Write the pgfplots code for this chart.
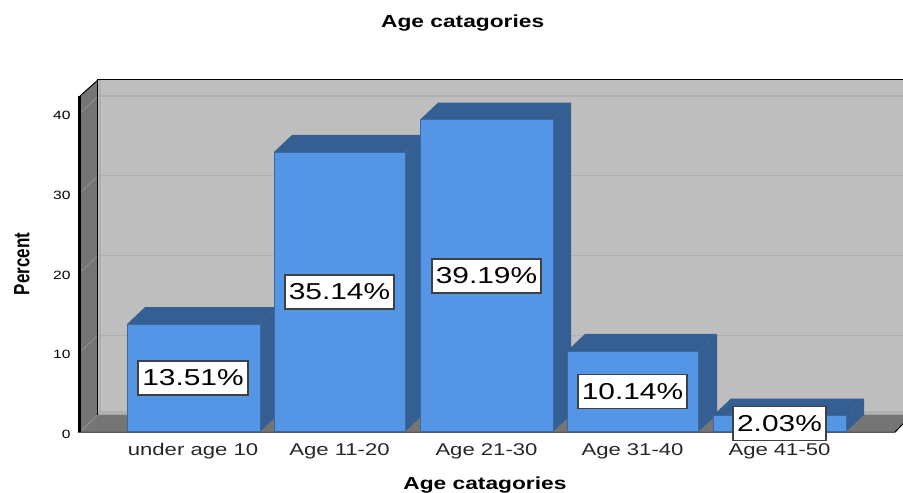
\documentclass[border=0pt]{standalone}
\usepackage{fontspec}
\setmainfont{Liberation Sans}
\newfontfamily\wide[FakeStretch=1.3]{Liberation Sans}
\usepackage{pgfplots}
\pgfplotsset{compat=1.18}
\definecolor{wall}{HTML}{BEBEBE}
\definecolor{dwall}{HTML}{757575}
\definecolor{gridc}{HTML}{B0B0B0}
\definecolor{front}{HTML}{5595E5}
\definecolor{side}{HTML}{355E92}
\begin{document}
\begin{tikzpicture}[x=1pt,y=1pt]
\useasboundingbox (-80pt,-61.3pt) rectangle (823pt,431.7pt);
\begin{axis}[
  at={(0pt,0pt)}, anchor=south west,
  scale only axis, width=823pt, height=351.7pt,
  xmin=80, xmax=903, ymin=0, ymax=44.18,
  clip=false,
  axis line style={draw=none},
  tick style={draw=none},
  /pgf/number format/assume math mode=true,
  ytick={0,10,20,30,40},
  yticklabel style={font=\wide\fontsize{12}{14}\selectfont, xshift=-6pt, yshift=-2.5pt},
  xtick={193,339.5,486.5,632.5,779.5},
  xticklabels={under age 10,Age 11-20,Age 21-30,Age 31-40,Age 41-50},
  xticklabel style={font=\wide\fontsize{17}{19}\selectfont, yshift=-8pt, text=black!85},
  title={Age catagories},
  title style={at={(axis description cs:0.465,1.146)}, anchor=center, font=\wide\bfseries\fontsize{17.5}{20}\selectfont},
  xlabel={Age catagories},
  xlabel style={at={(axis description cs:0.492,-0.151)}, anchor=center, font=\wide\bfseries\fontsize{17.5}{20}\selectfont},
  ylabel={\scalebox{1}[1.3]{\bfseries\fontsize{17}{19}\selectfont Percent}},
  ylabel style={at={(axis description cs:-0.0705,0.477)}, anchor=center, rotate=0},
]
% walls
\addplot[draw=none, fill=wall] coordinates {(98,2.14)(903,2.14)(903,44.18)(98,44.18)} -- cycle;
\addplot[draw=none, fill=dwall] coordinates {(80,0)(895,0)(903,1)(903,2.14)(98,2.14)} -- cycle;
\addplot[draw=none, fill=dwall] coordinates {(80,0)(98,2.14)(98,44.18)(80,42.17)} -- cycle;
% grid on the back wall
\addplot[gridc, line width=0.8pt] coordinates {(98,12.14)(903,12.14)};
\addplot[gridc, line width=0.8pt] coordinates {(98,22.14)(903,22.14)};
\addplot[gridc, line width=0.8pt] coordinates {(98,32.14)(903,32.14)};
\addplot[gridc, line width=2pt] coordinates {(98,42.14)(903,42.14)};
\addplot[gridc, line width=2pt] coordinates {(100,2.14)(100,44.18)};
\addplot[gridc, line width=3pt] coordinates {(98,2.4)(903,2.4)};
% grid on the side wall
\addplot[black!40, line width=0.6pt] coordinates {(80,10)(98,12.14)};
\addplot[black!40, line width=0.6pt] coordinates {(80,20)(98,22.14)};
\addplot[black!40, line width=0.6pt] coordinates {(80,30)(98,32.14)};
\addplot[black!40, line width=0.6pt] coordinates {(80,40)(98,42.14)};
\addplot[black!40, line width=0.6pt] coordinates {(82,0.2)(98,2.14)};
% frame
\addplot[black, line width=1pt] coordinates {(98,2.14)(98,44.18)(903,44.18)};
\addplot[black, line width=1pt] coordinates {(80,42.17)(98,44.18)};
\addplot[black, line width=3pt] coordinates {(79.5,0)(79.5,42.17)};
\addplot[black, line width=1pt] coordinates {(78,-0.06)(895,-0.06)(903,1)};
% bar 1
\addplot[draw=none, fill=side] coordinates {(260,0)(278,2.14)(278,15.65)(260,13.51)} -- cycle;
\addplot[draw=none, fill=side] coordinates {(127,13.51)(145,15.65)(278,15.65)(260,13.51)} -- cycle;
\addplot[draw=front!70!black, line width=0.6pt, fill=front] coordinates {(127,0)(260,0)(260,13.51)(127,13.51)} -- cycle;
% bar 2
\addplot[draw=none, fill=side] coordinates {(405,0)(423,2.14)(423,37.28)(405,35.14)} -- cycle;
\addplot[draw=none, fill=side] coordinates {(274,35.14)(292,37.28)(423,37.28)(405,35.14)} -- cycle;
\addplot[draw=front!70!black, line width=0.6pt, fill=front] coordinates {(274,0)(405,0)(405,35.14)(274,35.14)} -- cycle;
% bar 3
\addplot[draw=none, fill=side] coordinates {(553,0)(571,2.14)(571,41.33)(553,39.19)} -- cycle;
\addplot[draw=none, fill=side] coordinates {(420,39.19)(438,41.33)(571,41.33)(553,39.19)} -- cycle;
\addplot[draw=front!70!black, line width=0.6pt, fill=front] coordinates {(420,0)(553,0)(553,39.19)(420,39.19)} -- cycle;
% bar 4
\addplot[draw=none, fill=side] coordinates {(698,0)(717,2.14)(717,12.28)(698,10.14)} -- cycle;
\addplot[draw=none, fill=side] coordinates {(567,10.14)(585,12.28)(717,12.28)(698,10.14)} -- cycle;
\addplot[draw=front!70!black, line width=0.6pt, fill=front] coordinates {(567,0)(698,0)(698,10.14)(567,10.14)} -- cycle;
% bar 5
\addplot[draw=none, fill=side] coordinates {(846,0)(864,2.14)(864,4.17)(846,2.03)} -- cycle;
\addplot[draw=none, fill=side] coordinates {(713,2.03)(731,4.17)(864,4.17)(846,2.03)} -- cycle;
\addplot[draw=front!70!black, line width=0.6pt, fill=front] coordinates {(713,0)(846,0)(846,2.03)(713,2.03)} -- cycle;
% value labels
\addplot[only marks, mark=none, point meta=explicit symbolic,
  nodes near coords,
  nodes near coords align={anchor=center},
  every node near coord/.append style={anchor=center, fill=white, draw=black!75, line width=1.6pt,
    font=\wide\fontsize{23}{26}\selectfont, text=black, minimum height=34pt, inner xsep=4pt, inner ysep=0pt}]
  coordinates {
    (193,6.755)[13.51\%]
    (339.5,17.57)[35.14\%]
    (486.5,19.595)[39.19\%]
    (632.5,5.07)[10.14\%]
    (779.5,1.015)[2.03\%]
  };
\end{axis}
\end{tikzpicture}
\end{document}
